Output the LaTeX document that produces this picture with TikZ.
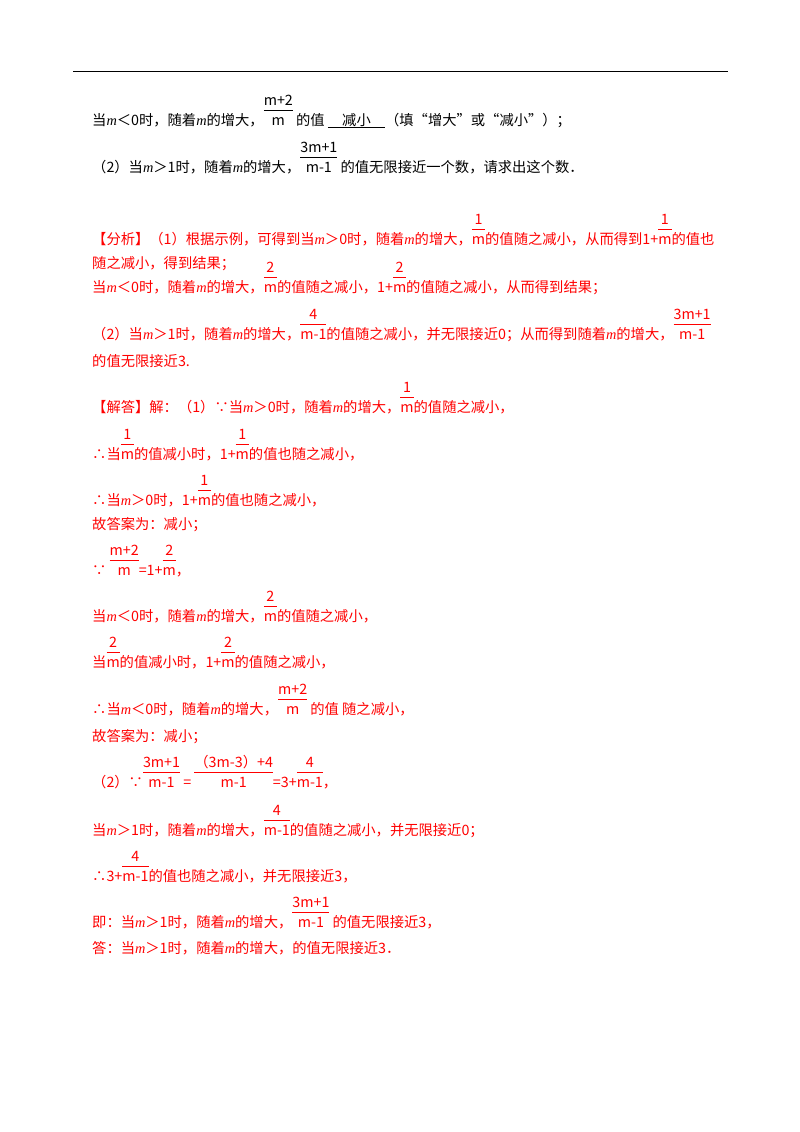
\documentclass[tikz,border=0pt]{standalone}
\usepackage{fontspec}
\setmainfont{Noto Sans CJK SC}
\newfontfamily\lib{Liberation Serif}
\newcommand\mm{{\lib\itshape m}}
\newcommand\fr[2]{\begin{tabular}[b]{@{}c@{}}#1\\[-1pt]\hline\rule{0pt}{15pt}#2\end{tabular}}
\begin{document}
\begin{tikzpicture}[x=1pt,y=-1pt,
  ln/.style={anchor=base west,inner sep=0pt,font=\fontsize{14.3}{16}\selectfont},
  bl/.style={ln,text=black},
  rd/.style={ln,text=red}]
\useasboundingbox (0,0) rectangle (800,1132);
\draw[line width=1pt] (73,72) -- (728,72);
\node[bl] (l1) at (92,125) {当\mm{}＜0时，随着\mm{}的增大，\fr{m+2}{m} 的值 \underline{\quad 减小\quad}（填“增大”或“减小”）；};
\node[bl] (l2) at (92,172) {（2）当\mm{}＞1时，随着\mm{}的增大，\fr{3m+1}{m-1} 的值无限接近一个数，请求出这个数．};
\node[rd] (l3) at (92,244) {【分析】（1）根据示例，可得到当\mm{}＞0时，随着\mm{}的增大，\fr{1}{m}的值随之减小，从而得到1+\fr{1}{m}的值也};
\node[rd] (l4) at (92,268) {随之减小，得到结果；};
\node[rd] (l5) at (92,292) {当\mm{}＜0时，随着\mm{}的增大，\fr{2}{m}的值随之减小，1+\fr{2}{m}的值随之减小，从而得到结果；};
\node[rd] (l6) at (92,339) {（2）当\mm{}＞1时，随着\mm{}的增大，\fr{4}{m-1}的值随之减小，并无限接近0；从而得到随着\mm{}的增大，\fr{3m+1}{m-1}};
\node[rd] (l7) at (92,366) {的值无限接近3.};
\node[rd] (l8) at (92,412) {【解答】解：（1）∵当\mm{}＞0时，随着\mm{}的增大，\fr{1}{m}的值随之减小，};
\node[rd] (l9) at (92,459) {∴当\fr{1}{m}的值减小时，1+\fr{1}{m}的值也随之减小，};
\node[rd] (l10) at (92,505) {∴当\mm{}＞0时，1+\fr{1}{m}的值也随之减小，};
\node[rd] (l11) at (92,529) {故答案为：减小；};
\node[rd] (l12) at (92,575) {∵ \fr{m+2}{m}=1+\fr{2}{m}，};
\node[rd] (l13) at (92,621) {当\mm{}＜0时，随着\mm{}的增大，\fr{2}{m}的值随之减小，};
\node[rd] (l14) at (92,667) {当\fr{2}{m}的值减小时，1+\fr{2}{m}的值随之减小，};
\node[rd] (l15) at (92,714) {∴当\mm{}＜0时，随着\mm{}的增大，\fr{m+2}{m} 的值 随之减小，};
\node[rd] (l16) at (92,741) {故答案为：减小；};
\node[rd] (l17) at (92,787) {（2）∵\fr{3m+1}{m-1} = \fr{（3m-3）+4}{m-1}=3+\fr{4}{m-1}，};
\node[rd] (l18) at (92,835) {当\mm{}＞1时，随着\mm{}的增大，\fr{4}{m-1}的值随之减小，并无限接近0；};
\node[rd] (l19) at (92,881) {∴3+\fr{4}{m-1}的值也随之减小，并无限接近3，};
\node[rd] (l20) at (92,927) {即：当\mm{}＞1时，随着\mm{}的增大，\fr{3m+1}{m-1} 的值无限接近3，};
\node[rd] (l21) at (92,953) {答：当\mm{}＞1时，随着\mm{}的增大，的值无限接近3．};
\end{tikzpicture}
\end{document}
